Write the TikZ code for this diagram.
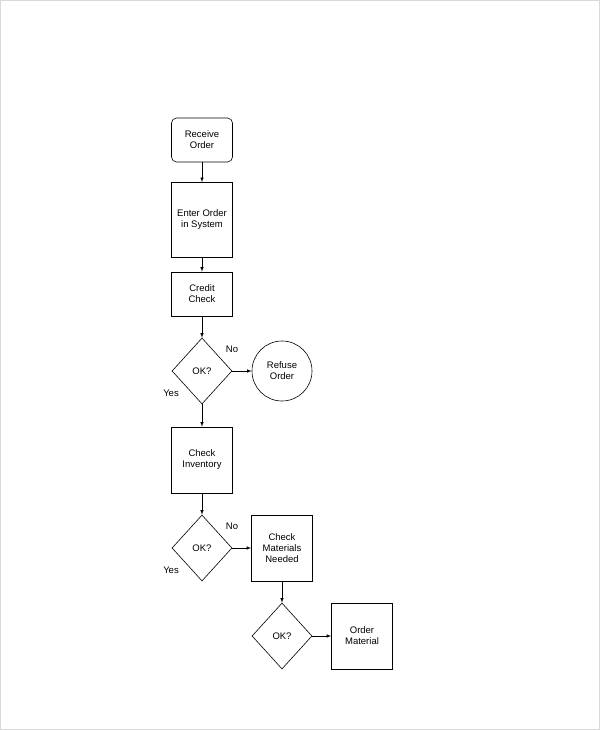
\documentclass[tikz,border=0pt]{standalone}
\usepackage{fontspec}
\setmainfont{Liberation Sans}
\usetikzlibrary{shapes.geometric}
\begin{document}
\begin{tikzpicture}[x=1pt,y=-1pt,line width=0.6pt,>=latex]
            \tikzstyle{every node}=[font=\fontsize{9.5}{11}\selectfont,align=center]
            \tikzstyle{box}=[draw,minimum width=61pt]
            \tikzstyle{ask}=[draw,diamond,minimum width=60pt,minimum height=66pt,inner sep=0pt]
            \useasboundingbox (0,0) rectangle (600,730);
            \draw[black!15] (0.5,0.5) rectangle (599.5,729.5);
            \node[box,rounded corners=5pt,minimum height=44pt] (recv) at (202, 140) {Receive\\Order};
            \node[box,minimum height=75pt] (enter) at (202, 220) {Enter Order\\in System};
            \node[box,minimum height=44pt] (credit) at (202, 294) {Credit\\Check};
            \node[ask] (ok1) at (202, 371) {OK?};
            \node[draw,circle,minimum size=60pt] (refuse) at (282, 371) {Refuse\\Order};
            \node[box,minimum height=66pt] (inv) at (202, 460) {Check\\Inventory};
            \node[ask] (ok2) at (202, 548) {OK?};
            \node[box,minimum height=66pt] (mat) at (282, 548) {Check\\Materials\\Needed};
            \node[ask] (ok3) at (282, 636) {OK?};
            \node[box,minimum height=66pt] (order) at (362, 636) {Order\\Material};
            \node (no1) at (232, 349) {No};
            \node (yes1) at (171, 393) {Yes};
            \node (no2) at (232, 526) {No};
            \node (yes2) at (171, 570) {Yes};

            \draw[->] (recv) -- (enter);
            \draw[->] (enter) -- (credit);
            \draw[->] (credit) -- (ok1);
            \draw[->] (ok1) -- (refuse);
            \draw[->] (ok1) -- (inv);
            \draw[->] (inv) -- (ok2);
            \draw[->] (ok2) -- (mat);
            \draw[->] (mat) -- (ok3);
            \draw[->] (ok3) -- (order);
          \end{tikzpicture}
\end{document}
